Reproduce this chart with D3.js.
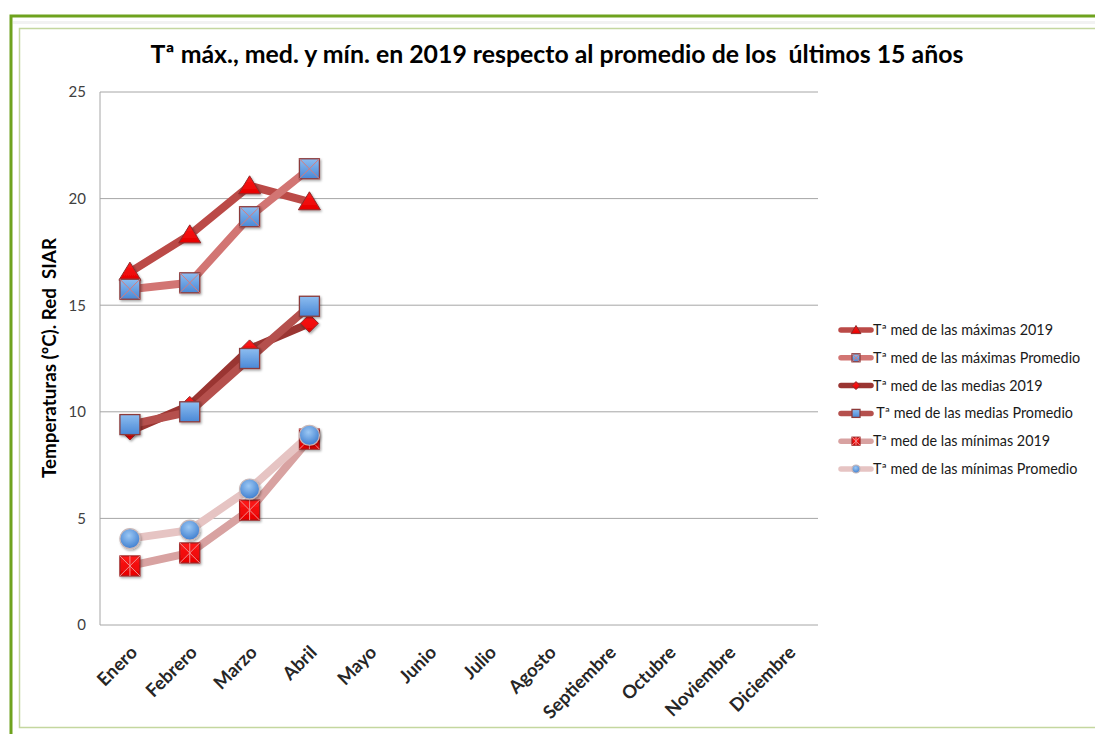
<!DOCTYPE html>
<html><head><meta charset="utf-8">
<script src="https://cdn.jsdelivr.net/npm/d3@7"></script>
<style>
body{margin:0;background:#fff}
svg{display:block}
text{font-family:Lato,"Open Sans",sans-serif}
</style>
</head><body>
<svg id="c" width="1095" height="734"></svg>
<script>
const months = ["Enero","Febrero","Marzo","Abril","Mayo","Junio","Julio","Agosto","Septiembre","Octubre","Noviembre","Diciembre"];
const maxima2019 = [16.55, 18.3, 20.6, 19.85];
const maximaPromedio = [15.75, 16.05, 19.15, 21.4];
const media2019 = [9.1, 10.3, 12.95, 14.15];
const mediaPromedio = [9.4, 10.0, 12.5, 14.95];
const minima2019 = [2.77, 3.38, 5.39, 8.72];
const minimaPromedio = [4.05, 4.45, 6.38, 8.9];
const yTicks = [0, 5, 10, 15, 20, 25];
const seriesNames = ["Tª med de las máximas 2019","Tª med de las máximas Promedio","Tª med de las medias 2019"," Tª med de las medias Promedio","Tª med de las mínimas 2019","Tª med de las mínimas Promedio"];
const titleText = "Tª máx., med. y mín. en 2019 respecto al promedio de los  últimos 15 años";
const yTitle = "Temperaturas (ºC). Red  SIAR";

const series = [
  {name: seriesNames[0], values: maxima2019, color: "#bb4a47", marker: "triangle"},
  {name: seriesNames[1], values: maximaPromedio, color: "#d27573", marker: "squareX"},
  {name: seriesNames[2], values: media2019, color: "#9a3532", marker: "diamond"},
  {name: seriesNames[3], values: mediaPromedio, color: "#b5504d", marker: "square"},
  {name: seriesNames[4], values: minima2019, color: "#d8a2a1", marker: "squareStar"},
  {name: seriesNames[5], values: minimaPromedio, color: "#e6c4c3", marker: "circle"}
];

const svg = d3.select("#c");
const defs = svg.append("defs");
const bg = defs.append("linearGradient").attr("id","blueG").attr("x1",0).attr("y1",0).attr("x2",0).attr("y2",1);
bg.append("stop").attr("offset","0%").attr("stop-color","#8dbdf0");
bg.append("stop").attr("offset","100%").attr("stop-color","#4a88d6");
const rg = defs.append("radialGradient").attr("id","blueR").attr("cx","45%").attr("cy","35%").attr("r","65%");
rg.append("stop").attr("offset","0%").attr("stop-color","#9cc8f4");
rg.append("stop").attr("offset","100%").attr("stop-color","#3f7fd0");
const redG = defs.append("linearGradient").attr("id","redG").attr("x1",0).attr("y1",0).attr("x2",0).attr("y2",1);
redG.append("stop").attr("offset","0%").attr("stop-color","#ff1a1a");
redG.append("stop").attr("offset","100%").attr("stop-color","#e60000");
const sh = defs.append("filter").attr("id","sh").attr("x","-30%").attr("y","-30%").attr("width","170%").attr("height","170%");
sh.append("feDropShadow").attr("dx",1.2).attr("dy",1.5).attr("stdDeviation",0.9).attr("flood-color","#000").attr("flood-opacity",0.35);

// frame
svg.append("rect").attr("x",11).attr("y",16).attr("width",1100).attr("height",740).attr("fill","none").attr("stroke","#6ea21e").attr("stroke-width",3);
svg.append("line").attr("x1",13).attr("x2",1095).attr("y1",22.5).attr("y2",22.5).attr("stroke","#f2f2f2").attr("stroke-width",3);
svg.append("rect").attr("x",19.5).attr("y",28.5).attr("width",1100).attr("height",699).attr("fill","none").attr("stroke","#c4d79f").attr("stroke-width",1.5);

const L = 100, R = 818, T = 92, B = 625;
const x = d3.scaleBand().domain(months).range([L, R]);
const y = d3.scaleLinear().domain([0, 25]).range([B, T]);
const cx = i => x(months[i]) + x.bandwidth() / 2;

// gridlines
svg.append("g").selectAll("line").data(yTicks).join("line")
  .attr("x1", L).attr("x2", R).attr("y1", d => y(d)).attr("y2", d => y(d))
  .attr("stroke", "#a6a6a6").attr("stroke-width", 1);
svg.append("line").attr("x1", L).attr("x2", L).attr("y1", T).attr("y2", B).attr("stroke", "#a6a6a6");

// y axis
const ya = svg.append("g").attr("transform", `translate(${L - 14},0)`)
  .call(d3.axisLeft(y).tickValues(yTicks).tickSize(0).tickPadding(0));
ya.select(".domain").remove();
ya.selectAll("text").attr("font-size", 15).attr("fill", "#404040").style("font-family","Lato,sans-serif");

// x axis
const xa = svg.append("g").attr("transform", `translate(0,${B})`)
  .call(d3.axisBottom(x).tickSize(0).tickPadding(0));
xa.select(".domain").remove();
const xt = xa.selectAll("text")
  .attr("font-size", 14).attr("font-weight", "bold").attr("fill", "#262626")
  .attr("text-anchor", "end").attr("y", null)
  .attr("transform", "translate(4,24) rotate(-45)").attr("dy", "0.35em");
{
  const sep = xt.filter(d => d === "Septiembre").node();
  const w = sep.getComputedTextLength();
  xt.attr("font-size", 14 * 94 / w);
}

// title
const tt = svg.append("text").attr("x", 557).attr("y", 63).attr("text-anchor", "middle")
  .attr("font-weight", "bold").attr("font-size", 22).attr("fill", "#000").style("white-space","pre").text(titleText);
{ const w = tt.node().getComputedTextLength(); tt.attr("font-size", 22 * 813 / w); }

// y title
const yt = svg.append("text").attr("transform", "translate(56,358) rotate(-90)").attr("text-anchor", "middle")
  .attr("font-weight", "bold").attr("font-size", 15).attr("fill", "#000").style("white-space","pre").text(yTitle);
{ const w = yt.node().getComputedTextLength(); yt.attr("font-size", 15 * 240 / w); }

// marker drawing
function drawMarker(g, type, s) {
  const h = s / 2;
  if (type === "triangle") {
    g.append("path").attr("d", `M0,${-h*1.0}L${h*1.1},${h*0.8}L${-h*1.1},${h*0.8}Z`)
      .attr("fill", "url(#redG)").attr("stroke", "#8e2a2a").attr("stroke-width", 1);
  } else if (type === "squareX" || type === "square") {
    g.append("rect").attr("x", -h).attr("y", -h).attr("width", s).attr("height", s)
      .attr("fill", "url(#blueG)").attr("stroke", "#8c3b3b").attr("stroke-width", 1.3);
    if (type === "squareX") {
      g.append("path").attr("d", `M${-h},${-h}L${h},${h}M${h},${-h}L${-h},${h}`)
        .attr("stroke", "#d87a7a").attr("stroke-width", 1);
    }
  } else if (type === "diamond") {
    g.append("path").attr("d", `M0,${-h}L${h},0L0,${h}L${-h},0Z`)
      .attr("fill", "url(#redG)").attr("stroke", "#8e2a2a").attr("stroke-width", 1);
  } else if (type === "squareStar") {
    g.append("rect").attr("x", -h).attr("y", -h).attr("width", s).attr("height", s)
      .attr("fill", "url(#redG)").attr("stroke", "#9a2020").attr("stroke-width", 1.2);
    g.append("path").attr("d", `M${-h},${-h}L${h},${h}M${h},${-h}L${-h},${h}M0,${-h}L0,${h}`)
      .attr("stroke", "#f09090").attr("stroke-width", 1);
  } else if (type === "circle") {
    g.append("circle").attr("r", h).attr("fill", "url(#blueR)").attr("stroke", "#c9b8b8").attr("stroke-width", 1.2);
  }
}
const markerSize = {triangle: 20, squareX: 20, square: 20, diamond: 18, squareStar: 20, circle: 20};

// lines
const line = d3.line().x((d, i) => cx(i)).y(d => y(d));
svg.append("g").selectAll("path").data(series).join("path")
  .attr("d", d => line(d.values)).attr("fill", "none")
  .attr("stroke", d => d.color).attr("stroke-width", 8).attr("stroke-linejoin", "round");

// markers
series.forEach(s => {
  const g = svg.append("g");
  s.values.forEach((v, i) => {
    const m = g.append("g").attr("transform", `translate(${cx(i)},${y(v)})`).attr("filter", "url(#sh)");
    drawMarker(m, s.marker, markerSize[s.marker]);
  });
});

// legend
const lg = svg.append("g");
const rowY = d3.scalePoint().domain(seriesNames).range([330, 469]);
series.forEach(s => {
  const yy = rowY(s.name);
  lg.append("line").attr("x1", 841).attr("x2", 871).attr("y1", yy).attr("y2", yy)
    .attr("stroke", s.color).attr("stroke-width", 5.5).attr("stroke-linecap", "round");
  const m = lg.append("g").attr("transform", `translate(856,${yy})`);
  drawMarker(m, s.marker, s.marker === "triangle" ? 9 : 8);
  lg.append("text").attr("class","lt").attr("x", 873).attr("y", yy).attr("dy", "0.35em")
    .attr("font-size", 13).attr("fill", "#1a1a1a").style("white-space","pre").text(s.name);
});
{ const n = lg.select("text.lt").node(); const w = n.getComputedTextLength(); lg.selectAll("text.lt").attr("font-size", 13 * 180 / w); }
</script>
</body></html>
